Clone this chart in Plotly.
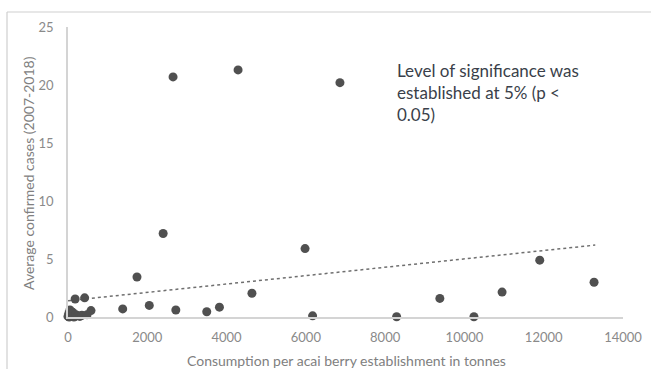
import plotly.graph_objects as go

# Data
consumption = [0, 20, 30, 50, 60, 100, 120, 150, 200, 250, 300, 350, 480, 580,
               180, 420,
               1380, 1740, 2050, 2400, 2650, 2720, 3500, 3820, 4290, 4640,
               5980, 6170, 6860, 8290, 9380, 10240, 10950, 11900, 13270]
avg_cases = [0.05, 0.3, 0.0, 0.6, 0.1, 0.15, 0.4, 0.0, 0.2, 0.1, 0.05, 0.15, 0.2, 0.55,
             1.55, 1.65,
             0.7, 3.45, 1.0, 7.2, 20.7, 0.6, 0.45, 0.85, 21.3, 2.05,
             5.9, 0.1, 20.2, 0.02, 1.6, 0.02, 2.15, 4.9, 3.0]
trend_x = [0, 13300]
trend_y = [1.4, 6.2]

x_ticks = [0, 2000, 4000, 6000, 8000, 10000, 12000, 14000]
y_ticks = [0, 5, 10, 15, 20, 25]

FONT = "Lato"
L, T, W, H = 68, 27, 555, 290  # plot area in pixels


def px(x):
    return (x - L) / W


def py(y):
    return (T + H - y) / H


fig = go.Figure()
fig.add_trace(go.Scatter(x=trend_x, y=trend_y, mode="lines",
                         line=dict(color="#6f6f6f", width=1.5, dash="dot"),
                         hoverinfo="skip", showlegend=False))
fig.add_trace(go.Scatter(x=consumption, y=avg_cases, mode="markers",
                         marker=dict(color="#505050", size=9),
                         showlegend=False, cliponaxis=False))

fig.update_layout(
    width=651, height=369,
    margin=dict(l=L, r=651 - L - W, t=T, b=369 - T - H),
    paper_bgcolor="white", plot_bgcolor="white",
    font=dict(family=FONT, color="#8a8a8a", size=13),
    xaxis=dict(range=[0, 14000], tickvals=x_ticks, ticktext=[str(v) for v in x_ticks],
               showgrid=False, zeroline=False, showline=True, linecolor="#d4d4d4",
               linewidth=1.5, ticks="", ticklabelstandoff=8, automargin=False),
    yaxis=dict(range=[0, 25], tickvals=y_ticks, ticktext=[str(v) for v in y_ticks],
               showgrid=False, zeroline=False, showline=True, linecolor="#d4d4d4",
               linewidth=1.5, ticks="", ticklabelstandoff=10, automargin=False),
    annotations=[
        dict(text="Level of significance was<br>established at 5% (p <<br>0.05)",
             xref="paper", yref="paper", x=px(395), y=py(58),
             xanchor="left", yanchor="top", align="left", showarrow=False,
             font=dict(family=FONT, size=17, color="#3a3f4a")),
        dict(text="Consumption per acai berry establishment in tonnes",
             xref="paper", yref="paper", x=px(346), y=py(360),
             xanchor="center", yanchor="middle", showarrow=False,
             font=dict(family=FONT, size=14, color="#808080")),
        dict(text="Average confirmed cases (2007-2018)",
             xref="paper", yref="paper", x=px(28), y=py(173), textangle=-90,
             xanchor="center", yanchor="middle", showarrow=False,
             font=dict(family=FONT, size=14, color="#808080")),
    ],
    shapes=[
        dict(type="line", xref="paper", yref="paper", x0=px(7), x1=px(660),
             y0=py(12), y1=py(12), line=dict(color="#cfcfcf", width=1.2)),
        dict(type="line", xref="paper", yref="paper", x0=px(7), x1=px(7),
             y0=py(12), y1=py(380), line=dict(color="#cfcfcf", width=1.2)),
    ],
)

fig.write_html("out.html", config={"displayModeBar": False},
               post_script="document.body.style.margin='0';document.body.style.overflow='hidden';")
